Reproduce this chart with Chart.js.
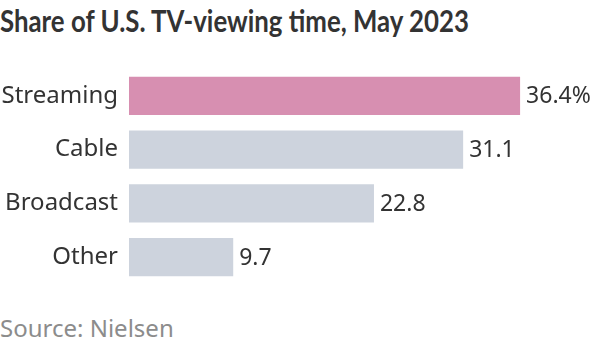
<!DOCTYPE html>
<html>
<head>
<meta charset="utf-8">
<script src="https://cdn.jsdelivr.net/npm/chart.js@4"></script>
<style>
  html, body { margin: 0; padding: 0; background: #fff; }
  body { width: 600px; height: 348px; position: relative; overflow: hidden; }
  #title { position: absolute; left: 0; top: 2px; font-family: "Lato", sans-serif; font-weight: bold; font-size: 30px; color: #333; white-space: nowrap; transform: scaleX(0.86); transform-origin: 0 0; }
  #source { position: absolute; left: 0; top: 311px; font-family: "Noto Sans", sans-serif; font-size: 24px; color: #8c8c8c; white-space: nowrap; }
  #c { position: absolute; left: 0; top: 69px; }
</style>
</head>
<body>
<div id="title">Share of U.S. TV-viewing time, May 2023</div>
<canvas id="c" width="600" height="215"></canvas>
<div id="source">Source: Nielsen</div>
<script>
const categories = ["Streaming", "Cable", "Broadcast", "Other"];
const shares = [36.4, 31.1, 22.8, 9.7];
const valueLabels = ["36.4%", "31.1", "22.8", "9.7"];
const barColors = ["#d78fb1", "#cdd3dd", "#cdd3dd", "#cdd3dd"];

const valueLabelPlugin = {
  id: "valueLabels",
  afterDatasetsDraw(chart) {
    const ctx = chart.ctx;
    const meta = chart.getDatasetMeta(0);
    ctx.save();
    ctx.font = '23px "Noto Sans", sans-serif';
    ctx.fillStyle = "#333";
    ctx.textBaseline = "middle";
    ctx.textAlign = "left";
    meta.data.forEach((bar, i) => {
      ctx.fillText(valueLabels[i], bar.x + 6, bar.y + 1);
    });
    ctx.restore();
  }
};

new Chart(document.getElementById("c"), {
  type: "bar",
  data: {
    labels: categories,
    datasets: [{
      data: shares,
      backgroundColor: barColors,
      borderWidth: 0,
      barPercentage: 0.707,
      categoryPercentage: 1.0
    }]
  },
  options: {
    indexAxis: "y",
    responsive: false,
    maintainAspectRatio: false,
    animation: false,
    layout: { padding: { left: 0, right: 9, top: 0, bottom: 0 } },
    plugins: { legend: { display: false }, tooltip: { enabled: false }, title: { display: false } },
    scales: {
      x: { display: false, min: 0, max: 43 },
      y: {
        grid: { display: false, drawTicks: false, tickLength: 0 },
        border: { display: false },
        ticks: { color: "#333", font: { family: "Noto Sans", size: 24 }, padding: 11 },
        afterFit(scale) { scale.width = 129; scale.paddingTop = 0; scale.paddingBottom = 0; }
      }
    }
  },
  plugins: [valueLabelPlugin]
});
</script>
</body>
</html>
